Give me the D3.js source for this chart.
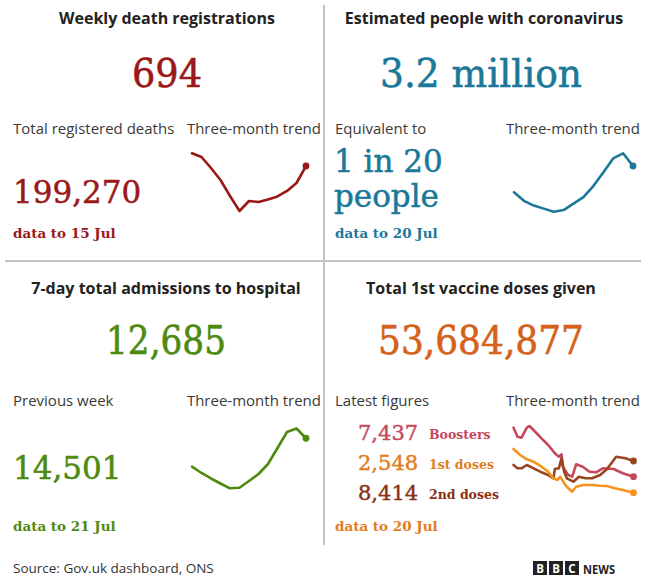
<!DOCTYPE html>
<html>
<head>
<meta charset="utf-8">
<script src="https://cdn.jsdelivr.net/npm/d3@7"></script>
<style>
  html, body { margin: 0; padding: 0; background: #fff; }
  svg { display: block; }
  .head { font-family: "Open Sans", sans-serif; font-weight: 700; font-size: 16px; fill: #222; }
  .lab { font-family: "Open Sans", sans-serif; font-size: 15px; fill: #3a3a3a; }
  .big { font-family: "DejaVu Serif", serif; font-size: 40px; stroke-width: 0.6px; }
  .mid { font-family: "DejaVu Serif", serif; font-size: 31px; stroke-width: 0.5px; }
  .asof { font-family: "DejaVu Serif", serif; font-weight: 700; font-size: 13.5px; }
</style>
</head>
<body>
<svg id="chart" width="657" height="578"></svg>
<script>
// Headline figures
const panels = ["Weekly death registrations", "Estimated people with coronavirus",
                "7-day total admissions to hospital", "Total 1st vaccine doses given"];
const headline = ["694", "3.2 million", "12,685", "53,684,877"];
const dataTo = ["data to 15 Jul", "data to 20 Jul", "data to 21 Jul", "data to 20 Jul"];

// Three-month trends (weekly points)
const deathsTrend = [859, 811, 668, 512, 304, 109, 239, 226, 259, 298, 369, 473, 694];
const infectionsTrend = [1.90, 1.48, 1.25, 1.10, 0.95, 1.03, 1.34, 1.66, 2.20, 2.86, 3.55, 3.80, 3.18];
const admissionsTrend = [7403, 6231, 5208, 4278, 3385, 3478, 4743, 6045, 7905, 10881, 13857, 14501, 12685];

// Vaccine trends (day offset within the three months, value)
const boosterDays = [0, 3, 6, 10, 12, 15, 21, 26, 31, 34, 36, 37, 41, 44, 47, 52, 57, 62, 67, 75, 82, 90];
const boosterVals = [31177, 26817, 26333, 31177, 32000, 30063, 26042, 22796, 18774, 17127, 18290, 12282,
                     8261, 7450, 13445, 12282, 9860, 9569, 11507, 11168, 9084, 7437];
const firstDays = [0, 5, 10, 15, 21, 26, 30, 33, 35, 38, 40, 44, 47, 52, 60, 65, 70, 76, 82, 90];
const firstVals = [9496, 8542, 7859, 7477, 6682, 5887, 4838, 4567, 5092, 4043, 3502, 2707, 3502, 3772,
                   3772, 3661, 3613, 3248, 2977, 2548];
const secondDays = [0, 3, 6, 10, 14, 20, 26, 30, 31, 34, 36, 38, 40, 45, 49, 54, 59, 65, 70, 77, 84, 90];
const secondVals = [7494, 6735, 6735, 7494, 6873, 5953, 5194, 4435, 6574, 6735, 9035, 5953, 4435, 3653,
                    4803, 4435, 4435, 5194, 6505, 9403, 9035, 8414];

const latestNames = ["Boosters", "1st doses", "2nd doses"];
const latestVals = ["7,437", "2,548", "8,414"];

const RED = "#9a1818", TEAL = "#1b7899", GREEN = "#4f8a10", ORANGE = "#d4621a";
const PINK = "#c5485c", ORANGE2 = "#e27c1e", BROWN = "#8c3015";
const LINE_ORANGE = "#f7921f", LINE_BROWN = "#9a4520";

const svg = d3.select("#chart");

// Dividers
svg.append("line").attr("x1", 324).attr("x2", 324).attr("y1", 5).attr("y2", 545)
    .attr("stroke", "#c4c4c4").attr("stroke-width", 2);
svg.append("line").attr("x1", 5).attr("x2", 641).attr("y1", 261).attr("y2", 261)
    .attr("stroke", "#c4c4c4").attr("stroke-width", 2);

// Panel headings and headline numbers
const centres = [167, 484, 166, 481];
const headY = [24, 24, 294, 294];
const bigY = [87, 87, 354, 354];
const bigW = [70, 202, 120, 206];
const bigCol = [RED, TEAL, GREEN, ORANGE];
panels.forEach((p, i) => {
    svg.append("text").attr("class", "head").attr("x", centres[i]).attr("y", headY[i])
        .attr("text-anchor", "middle").text(p);
    svg.append("text").attr("class", "big").attr("x", i === 1 ? 481 : centres[i]).attr("y", bigY[i])
        .attr("text-anchor", "middle").attr("fill", bigCol[i]).attr("stroke", bigCol[i])
        .attr("textLength", bigW[i]).attr("lengthAdjust", "spacingAndGlyphs").text(headline[i]);
});

// Sub labels
function label(x, y, t, anchor) {
    svg.append("text").attr("class", "lab").attr("x", x).attr("y", y)
        .attr("text-anchor", anchor || "start").text(t);
}
label(13, 134, "Total registered deaths");
label(321, 134, "Three-month trend", "end");
label(335, 134, "Equivalent to");
label(640, 134, "Three-month trend", "end");
label(13, 406, "Previous week");
label(321, 406, "Three-month trend", "end");
label(335, 406, "Latest figures");
label(640, 406, "Three-month trend", "end");

function mid(x, y, t, col) {
    svg.append("text").attr("class", "mid").attr("x", x).attr("y", y)
        .attr("fill", col).attr("stroke", col).text(t);
}
mid(13, 203, "199,270", RED);
mid(334, 172, "1 in 20", TEAL);
mid(334, 207, "people", TEAL);
mid(13, 479, "14,501", GREEN);

const asofPos = [[13, 238], [335, 238], [13, 531], [335, 531]];
const asofCol = [RED, TEAL, GREEN, ORANGE2];
dataTo.forEach((t, i) => {
    svg.append("text").attr("class", "asof").attr("x", asofPos[i][0]).attr("y", asofPos[i][1])
        .attr("fill", asofCol[i]).text(t);
});

// Latest vaccine figures
const latestCol = [PINK, ORANGE2, BROWN];
latestVals.forEach((v, i) => {
    const y = 440 + i * 30;
    svg.append("text").attr("x", 358).attr("y", y).attr("fill", latestCol[i])
        .attr("stroke", latestCol[i]).attr("stroke-width", 0.4)
        .style("font-family", "DejaVu Serif, serif").style("font-size", "21px").text(v);
    svg.append("text").attr("x", 429).attr("y", y - 1).attr("fill", latestCol[i])
        .style("font-family", "DejaVu Serif, serif").style("font-weight", 700).style("font-size", "12.5px")
        .text(latestNames[i]);
});

// Sparklines
function spark(xs, vals, xRange, yRange, colour, xDomain) {
    const x = d3.scaleLinear().domain(xDomain || d3.extent(xs)).range(xRange);
    const y = d3.scaleLinear().domain(d3.extent(vals)).range(yRange);
    const pts = xs.map((d, i) => [d, vals[i]]);
    const line = d3.line().x(d => x(d[0])).y(d => y(d[1]));
    svg.append("path").datum(pts)
        .attr("fill", "none").attr("stroke", colour).attr("stroke-width", 2.6)
        .attr("stroke-linejoin", "round").attr("stroke-linecap", "round")
        .attr("d", line);
    const last = pts[pts.length - 1];
    svg.append("circle").attr("cx", x(last[0])).attr("cy", y(last[1])).attr("r", 3.4).attr("fill", colour);
}
const weeks = d3.range(13);
spark(weeks, deathsTrend, [192, 306], [211, 153.3], RED);
spark(weeks, infectionsTrend, [514, 633], [211.7, 153.3], TEAL);
spark(weeks, admissionsTrend, [192, 306], [488.3, 428.5], GREEN);
spark(boosterDays, boosterVals, [513.5, 633.5], [476.7, 426], PINK, [0, 90]);
spark(secondDays, secondVals, [513.5, 633.5], [481.7, 456.7], LINE_BROWN, [0, 90]);
spark(firstDays, firstVals, [513.5, 633.5], [492.7, 449], LINE_ORANGE, [0, 90]);

// Footer
svg.append("text").attr("x", 13).attr("y", 573)
    .style("font-family", "Open Sans, sans-serif").style("font-size", "13.5px").attr("fill", "#333")
    .text("Source: Gov.uk dashboard, ONS");

const logo = svg.append("g").attr("transform", "translate(533,561)");
["B", "B", "C"].forEach((c, i) => {
    logo.append("rect").attr("x", i * 16).attr("y", 0).attr("width", 14).attr("height", 14).attr("fill", "#222");
    logo.append("text").attr("x", i * 16 + 7).attr("y", 11.5).attr("text-anchor", "middle")
        .style("font-family", "Open Sans, sans-serif").style("font-weight", 700).style("font-size", "11.5px")
        .attr("fill", "#fff").text(c);
});
logo.append("text").attr("x", 50).attr("y", 12.5)
    .style("font-family", "Open Sans, sans-serif").style("font-weight", 700).style("font-size", "13px")
    .attr("fill", "#222").attr("textLength", 32).attr("lengthAdjust", "spacingAndGlyphs").text("NEWS");
</script>
</body>
</html>
